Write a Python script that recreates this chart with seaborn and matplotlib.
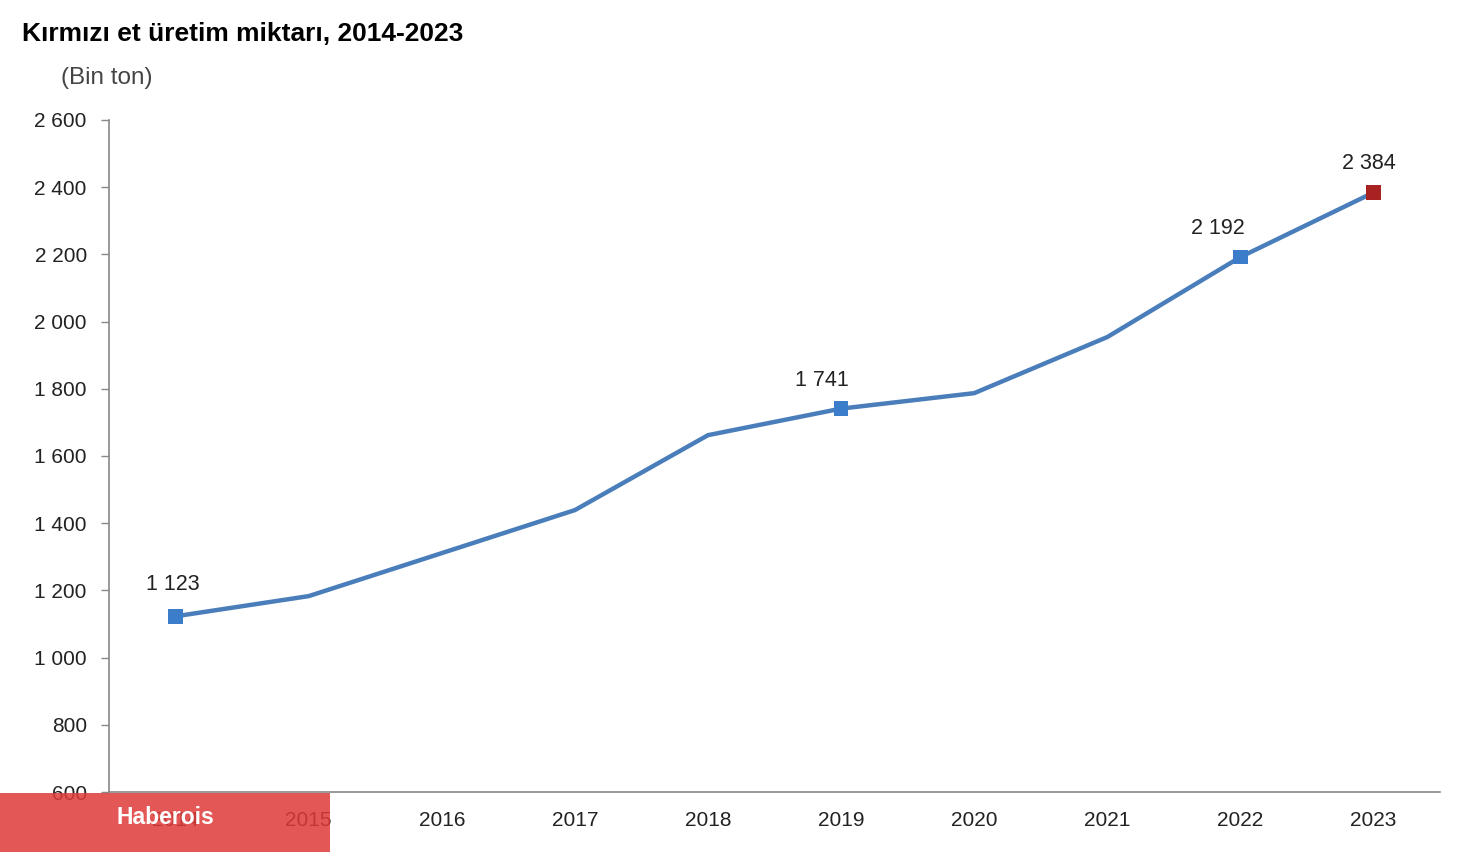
import numpy as np
import pandas as pd
import matplotlib
matplotlib.use("Agg")
import matplotlib.pyplot as plt
import matplotlib.ticker as mticker
import seaborn as sns

# ── Data ─────────────────────────────────────────────────────────────
years = [2014, 2015, 2016, 2017, 2018, 2019, 2020, 2021, 2022, 2023]
production = [1123, 1183, 1311, 1439, 1662, 1741, 1787, 1954, 2192, 2384]
labelled_years = [2014, 2019, 2022, 2023]
label_offsets = {2014: (-2, 15), 2019: (-14, 13), 2022: (-16, 13), 2023: (-3, 13)}

title = "Kırmızı et üretim miktarı, 2014-2023"
unit = "(Bin ton)"

df = pd.DataFrame({"year": years, "value": production})
lab = df[df["year"].isin(labelled_years)].copy()
lab["kind"] = np.where(lab["year"] == years[-1], "last", "other")

LINE = "#4a7ebb"
BLUE = "#3b7dc8"
RED = "#a82222"

sns.set_style("white")
plt.rcParams["font.family"] = ["Liberation Sans", "DejaVu Sans"]

fig = plt.figure(figsize=(14.84, 8.52), dpi=100)
ax = fig.add_axes([0.0735, 0.0704, 0.8969, 0.7888])

sns.lineplot(data=df, x="year", y="value", color=LINE, linewidth=3.2, ax=ax)
sns.scatterplot(data=lab, x="year", y="value", hue="kind",
                palette={"other": BLUE, "last": RED}, marker="s", s=110,
                edgecolor="none", legend=False, ax=ax, zorder=5)

fmt = lambda v: f"{int(v):,}".replace(",", " ")
for _, r in lab.iterrows():
    dx, dy = label_offsets[r["year"]]
    ax.annotate(fmt(r["value"]), (r["year"], r["value"]), xytext=(dx, dy),
                textcoords="offset points", ha="center", va="bottom",
                fontsize=15.5, color="#222222")

ax.set_xlim(years[0] - 0.5, years[-1] + 0.5)
ax.set_ylim(600, 2600)
ax.yaxis.set_major_locator(mticker.MultipleLocator(200))
ax.yaxis.set_major_formatter(mticker.FuncFormatter(lambda v, p: fmt(v)))
ax.set_xticks(years)
ax.set_xticks(np.arange(years[0] - 0.5, years[-1] + 1), minor=True)
ax.tick_params(axis="x", which="major", length=0, pad=14, labelsize=15, labelcolor="#222222")
ax.tick_params(axis="x", which="minor", length=6, width=1, color="#888888", direction="out")
ax.tick_params(axis="y", which="major", length=6, width=1, color="#888888", direction="out",
               pad=10, labelsize=15, labelcolor="#222222", left=True)
ax.set_xlabel("")
ax.set_ylabel("")
for s in ["top", "right"]:
    ax.spines[s].set_visible(False)
for s in ["left", "bottom"]:
    ax.spines[s].set_color("#888888")
    ax.spines[s].set_linewidth(1.2)

fig.text(22 / 1484, 1 - 34 / 852, title, fontsize=19, fontweight="bold",
         ha="left", va="center", color="#000000")
fig.text(107 / 1484, 1 - 78 / 852, unit, fontsize=17.5, ha="center", va="center",
         color="#444444")

# watermark band
fig.patches.append(plt.Rectangle((0, 0), 330 / 1484, 59 / 852, transform=fig.transFigure,
                                 facecolor="#e03a3a", alpha=0.85, edgecolor="none", zorder=10))
fig.text(165 / 1484, 34 / 852, "Haberois", fontsize=16.5, fontweight="bold", color="white",
         ha="center", va="center", zorder=11)

fig.savefig("out.png", dpi=100)
